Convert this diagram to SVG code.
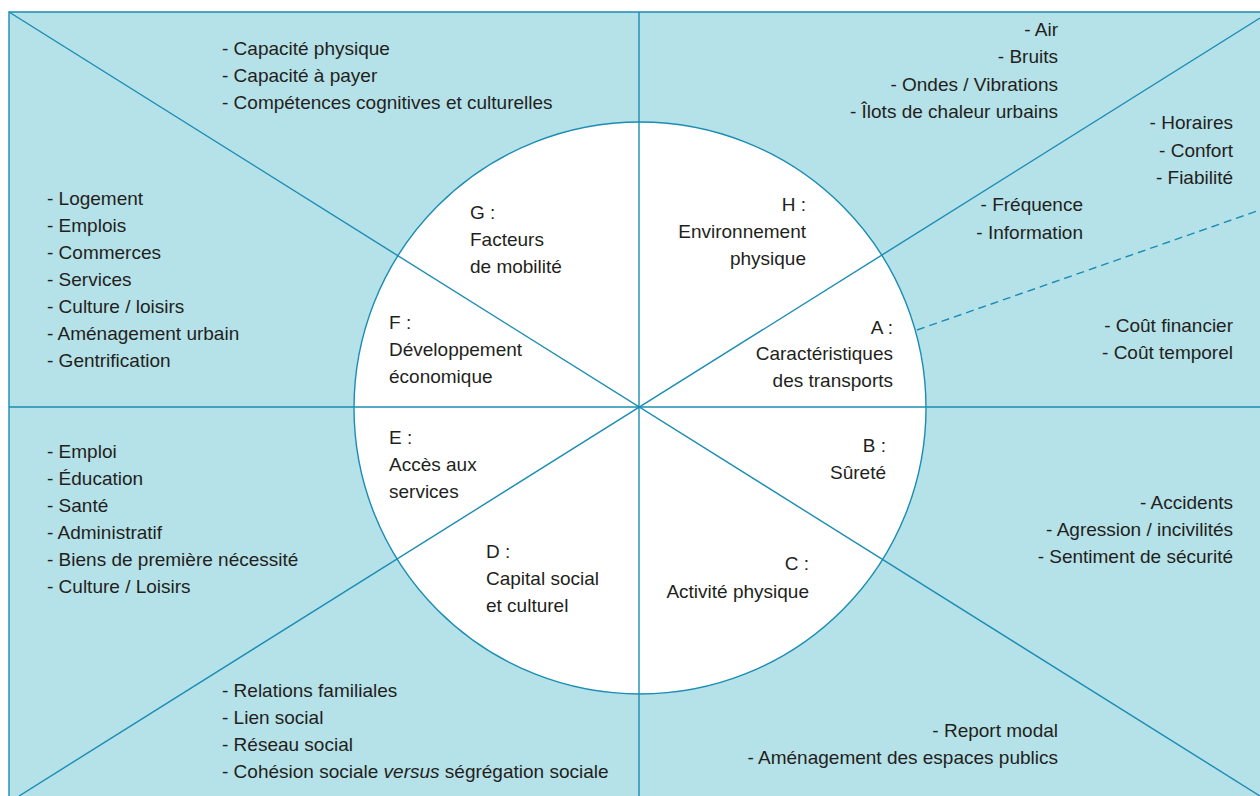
<svg xmlns="http://www.w3.org/2000/svg" width="1260" height="796" viewBox="0 0 1260 796">
<style>
text{font-family:"Liberation Sans",Arial,sans-serif;font-size:19px;fill:#231f20}
.r{text-anchor:end}
.ln{stroke:#1a8cb4;stroke-width:1.4;fill:none}
</style>
<rect x="0" y="0" width="1260" height="796" fill="#ffffff"/>
<rect x="9" y="12" width="1260" height="800" fill="#b5e1e8"/>
<path class="ln" d="M9,812 V12 H1260" stroke-width="2"/>
<circle cx="640" cy="408" r="286" fill="#ffffff"/>
<g id="connectors">
<line class="ln" x1="639" y1="12" x2="639" y2="796"/>
<line class="ln" x1="9" y1="407" x2="1260" y2="407"/>
<line class="ln" x1="9" y1="12" x2="1260" y2="796"/>
<line class="ln" x1="1260" y1="18" x2="19" y2="796"/>
<line class="ln" x1="917" y1="330" x2="1260" y2="210" stroke-dasharray="8 5"/>
</g>
<circle class="ln" cx="640" cy="408" r="286"/>
<g id="G">
<text x="470" y="219">G :</text>
<text x="470" y="246">Facteurs</text>
<text x="470" y="273">de mobilité</text>
<text x="222" y="55">- Capacité physique</text>
<text x="222" y="82">- Capacité à payer</text>
<text x="222" y="109">- Compétences cognitives et culturelles</text>
</g>
<g id="H">
<text class="r" x="806" y="211">H :</text>
<text class="r" x="806" y="238">Environnement</text>
<text class="r" x="806" y="265">physique</text>
<text class="r" x="1058" y="36">- Air</text>
<text class="r" x="1058" y="63">- Bruits</text>
<text class="r" x="1058" y="90.5">- Ondes / Vibrations</text>
<text class="r" x="1058" y="117.5">- Îlots de chaleur urbains</text>
</g>
<g id="A">
<text class="r" x="893" y="334">A :</text>
<text class="r" x="893" y="360">Caractéristiques</text>
<text class="r" x="893" y="387">des transports</text>
<text class="r" x="1233" y="129">- Horaires</text>
<text class="r" x="1233" y="156.5">- Confort</text>
<text class="r" x="1233" y="183.5">- Fiabilité</text>
<text class="r" x="1083" y="211">- Fréquence</text>
<text class="r" x="1083" y="238.5">- Information</text>
<text class="r" x="1233" y="331.5">- Coût financier</text>
<text class="r" x="1233" y="359">- Coût temporel</text>
</g>
<g id="B">
<text class="r" x="886" y="452">B :</text>
<text class="r" x="886" y="479">Sûreté</text>
<text class="r" x="1233" y="509">- Accidents</text>
<text class="r" x="1233" y="536">- Agression / incivilités</text>
<text class="r" x="1233" y="562.5">- Sentiment de sécurité</text>
</g>
<g id="C">
<text class="r" x="809" y="570">C :</text>
<text class="r" x="809" y="598">Activité physique</text>
<text class="r" x="1058" y="737">- Report modal</text>
<text class="r" x="1058" y="764">- Aménagement des espaces publics</text>
</g>
<g id="D">
<text x="486" y="558">D :</text>
<text x="486" y="585">Capital social</text>
<text x="486" y="612">et culturel</text>
<text x="222" y="697">- Relations familiales</text>
<text x="222" y="724">- Lien social</text>
<text x="222" y="751">- Réseau social</text>
<text x="222" y="778">- Cohésion sociale <tspan font-style="italic">versus</tspan> ségrégation sociale</text>
</g>
<g id="E">
<text x="389" y="444">E :</text>
<text x="389" y="471">Accès aux</text>
<text x="389" y="498">services</text>
<text x="47" y="458">- Emploi</text>
<text x="47" y="485">- Éducation</text>
<text x="47" y="512">- Santé</text>
<text x="47" y="539">- Administratif</text>
<text x="47" y="566">- Biens de première nécessité</text>
<text x="47" y="593">- Culture / Loisirs</text>
</g>
<g id="F">
<text x="389" y="329">F :</text>
<text x="389" y="356">Développement</text>
<text x="389" y="383">économique</text>
<text x="47" y="205">- Logement</text>
<text x="47" y="232">- Emplois</text>
<text x="47" y="259">- Commerces</text>
<text x="47" y="286">- Services</text>
<text x="47" y="313">- Culture / loisirs</text>
<text x="47" y="340">- Aménagement urbain</text>
<text x="47" y="367">- Gentrification</text>
</g>
</svg>
